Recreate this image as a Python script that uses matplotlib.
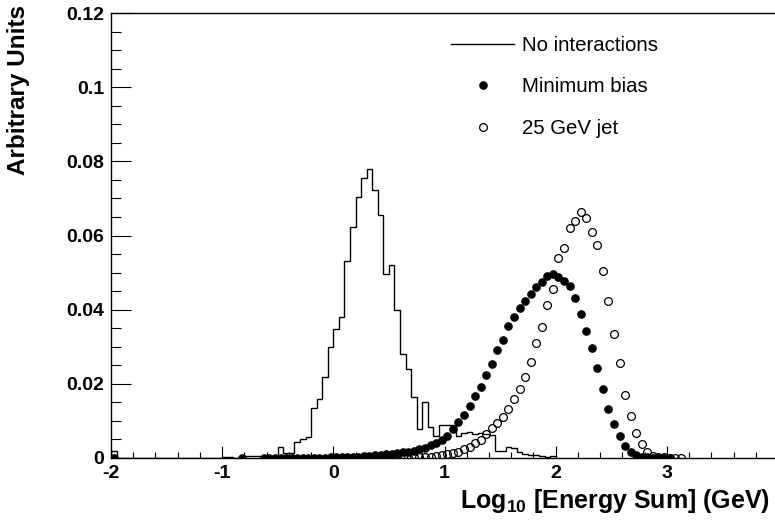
import numpy as np
import matplotlib
matplotlib.use("Agg")
import matplotlib.pyplot as plt
from matplotlib.lines import Line2D
from matplotlib.ticker import MultipleLocator, FuncFormatter

plt.rcParams['font.family'] = ['Liberation Sans', 'DejaVu Sans']
plt.rcParams['axes.unicode_minus'] = False
plt.rcParams['mathtext.fontset'] = 'custom'
plt.rcParams['mathtext.rm'] = 'Liberation Sans:bold'
plt.rcParams['mathtext.it'] = 'Liberation Sans:bold'
plt.rcParams['mathtext.bf'] = 'Liberation Sans:bold'

bin_width = 0.05

# no interactions: histogram contents, bins of 0.05 starting at -2.0
noint_start = -2.0
noint = [
    0.0018, 0, 0, 0, 0, 0, 0, 0, 0, 0,
    0, 0, 0, 0, 0, 0, 0, 0, 0, 0,
    0.0004, 0.0002, 0.0001, 0.0002, 0.0005, 0.0005, 0.0005, 0.0004, 0.0004, 0.0004,
    0.0030, 0.0014, 0.0013, 0.0044, 0.0050, 0.0056, 0.0134, 0.0158, 0.0218, 0.0300,
    0.0347, 0.0379, 0.0530, 0.0623, 0.0705, 0.0756, 0.0780, 0.0724, 0.0654, 0.0497,
    0.0520, 0.0398, 0.0280, 0.0240, 0.0165, 0.0077, 0.0152, 0.0084, 0.0058, 0.0089,
    0.0090, 0.0090, 0.0058, 0.0068, 0.0070, 0.0066, 0.0068, 0.0066, 0.0062, 0.0020,
    0.0020, 0.0030, 0.0028, 0.0016, 0.0010, 0.0008, 0.0008, 0.0005, 0.0003, 0.0005,
]

# minimum bias: bin contents, first bin centre at -0.625
minbias_start = -0.625
minbias = [
    0.0001, 0.0001, 0.0001, 0.0001, 0.0001, 0.0001, 0.0001, 0.0001, 0.0001, 0.0001,
    0.0001, 0.0001, 0.0002, 0.0002, 0.0002, 0.0003, 0.0003, 0.0004, 0.0005, 0.0006,
    0.0007, 0.0008, 0.0010, 0.0011, 0.0013, 0.0015, 0.0017, 0.0020, 0.0024, 0.0028,
    0.0034, 0.0040, 0.0049, 0.0060, 0.0077, 0.0096, 0.0116, 0.0139, 0.0166, 0.0192,
    0.0223, 0.0253, 0.0291, 0.0318, 0.0357, 0.0379, 0.0405, 0.0424, 0.0442, 0.0461,
    0.0475, 0.0491, 0.0497, 0.0488, 0.0478, 0.0464, 0.0431, 0.0389, 0.0343, 0.0297,
    0.0244, 0.0187, 0.0131, 0.0091, 0.0058, 0.0033, 0.0015, 0.0007, 0.0003, 0.0002,
    0.0001, 0.0001, 0.0001, 0.0001,
]
# isolated low bins of the minimum bias sample
minbias_low_x = [-1.975, -0.825]
minbias_low = [0.0001, 0.0001]

# 25 GeV jet: bin contents, first bin centre at 0.025
jet_start = 0.025
jet = [
    0.0001, 0.0001, 0.0001, 0.0001, 0.0001, 0.0001, 0.0001, 0.0001, 0.0001, 0.0002,
    0.0002, 0.0002, 0.0002, 0.0002, 0.0003, 0.0003, 0.0003, 0.0004, 0.0005, 0.0008,
    0.0011, 0.0014, 0.0017, 0.0023, 0.0031, 0.0040, 0.0049, 0.0065, 0.0080, 0.0094,
    0.0110, 0.0131, 0.0158, 0.0185, 0.0219, 0.0260, 0.0311, 0.0352, 0.0413, 0.0456,
    0.0540, 0.0567, 0.0619, 0.0639, 0.0664, 0.0648, 0.0610, 0.0574, 0.0504, 0.0423,
    0.0334, 0.0255, 0.0170, 0.0114, 0.0067, 0.0037, 0.0015, 0.0006, 0.0003, 0.0002,
    0.0001, 0.0001, 0.0001,
]

x_ticks = [-2, -1, 0, 1, 2, 3]

noint_edges = noint_start + bin_width * np.arange(len(noint) + 1)
minbias_x = minbias_start + bin_width * np.arange(len(minbias))
jet_x = jet_start + bin_width * np.arange(len(jet))

fig = plt.figure(figsize=(7.75, 5.25), dpi=100)
ax = fig.add_axes([111 / 775, 67 / 525, 667 / 775, 445 / 525])

ax.stairs(noint, noint_edges, color='black', linewidth=1.0, baseline=0)
ax.plot(jet_x, jet, 'o', ls='none', mfc='none', mec='black', ms=5.6, mew=0.9)
ax.plot(minbias_x, minbias, 'o', ls='none', color='black', ms=5.2)
ax.plot(minbias_low_x, minbias_low, 'o', ls='none', color='black', ms=5.2)

ax.set_xlim(-2, 4)
ax.set_ylim(0, 0.12)

ax.set_xticks(x_ticks)
ax.xaxis.set_minor_locator(MultipleLocator(0.2))
ax.yaxis.set_major_locator(MultipleLocator(0.02))
ax.yaxis.set_minor_locator(MultipleLocator(0.005))
ax.yaxis.set_major_formatter(FuncFormatter(lambda v, p: '%g' % round(v, 3)))
ax.xaxis.set_major_formatter(FuncFormatter(lambda v, p: '%d' % round(v)))

ax.tick_params(axis='both', which='both', direction='in', width=0.8,
               top=False, right=False, labelsize=14)
ax.tick_params(axis='y', which='major', length=14.4, pad=5)
ax.tick_params(axis='y', which='minor', length=7.2)
ax.tick_params(axis='x', which='major', length=9, pad=5)
ax.tick_params(axis='x', which='minor', length=4.5)
for lab in ax.get_xticklabels() + ax.get_yticklabels():
    lab.set_fontweight('bold')

for side in ['left', 'bottom', 'top']:
    ax.spines[side].set_linewidth(1.0)
ax.spines['right'].set_visible(False)

fig.text(19 / 775, 1 - 5 / 525, 'Arbitrary Units', rotation=90,
         ha='center', va='top', fontsize=17.5, fontweight='bold')
fig.text(770 / 775, 1 - 508 / 525, 'Log$_{10}$ [Energy Sum] (GeV)',
         ha='right', va='baseline', fontsize=18, fontweight='bold')

handles = [
    Line2D([], [], color='black', lw=1.0),
    Line2D([], [], marker='o', ls='none', color='black', ms=5.2),
    Line2D([], [], marker='o', ls='none', mfc='none', mec='black', ms=5.6, mew=0.9),
]
labels = ['No interactions', 'Minimum bias', '25 GeV jet']
ax.legend(handles, labels, loc='upper left', frameon=False, fontsize=14.7,
          bbox_to_anchor=(451 / 775, 1 - 36 / 525), bbox_transform=fig.transFigure,
          borderpad=0, borderaxespad=0, handlelength=3.1, handletextpad=0.38,
          labelspacing=1.1, numpoints=1)

fig.savefig('out.png', dpi=100)
